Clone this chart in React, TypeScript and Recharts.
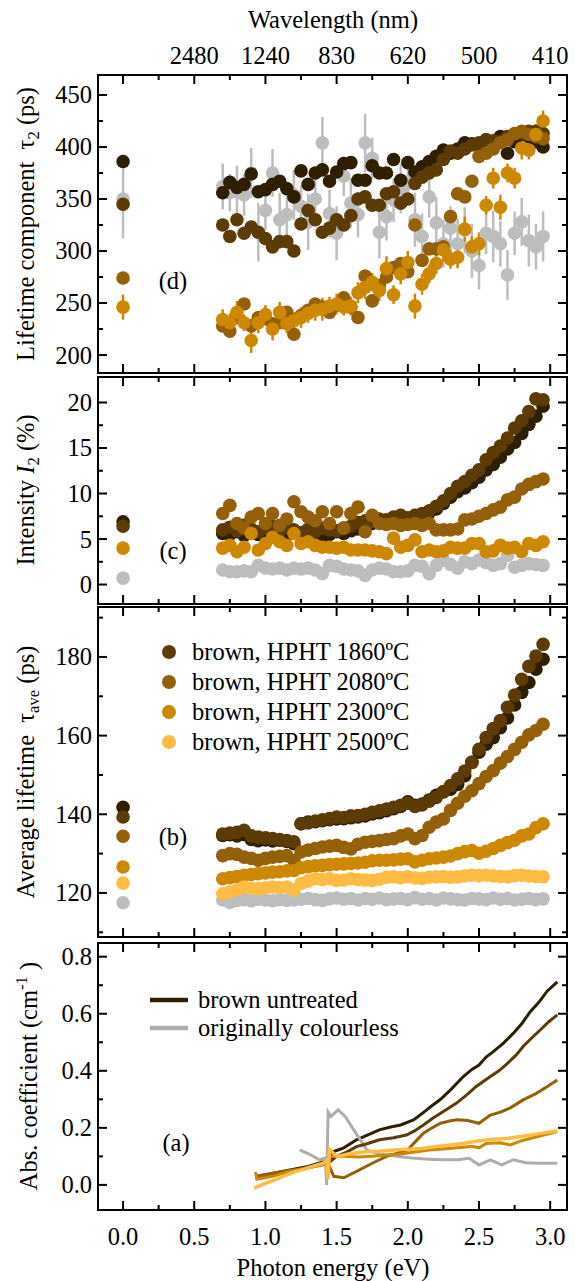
import { ComposedChart, Scatter, Line, XAxis, YAxis, ErrorBar, Legend } from "recharts";

const W = 575;
const H = 1281;
const FONT = '"Liberation Serif", "Times New Roman", Times, serif';
const FS = 24.5;

const UNTREATED = "#2e1e02";
const T1860 = "#5c3b06";
const T2080 = "#94600a";
const T2300 = "#cc8800";
const T2500 = "#ffbc42";
const GREY = "#bdbdbd";
const GREY_LINE = "#adadad";

// plot frame (page px)
const PLOT_L = 98;
const PLOT_R = 567;
const D_BOX = [75, 373];
const C_BOX = [377, 604];
const B_BOX = [607, 937];
const A_BOX = [943, 1210];

const X_DOMAIN = [-0.176, 3.118];
const X_TICKS = [0, 0.25, 0.5, 0.75, 1, 1.25, 1.5, 1.75, 2, 2.25, 2.5, 2.75, 3];
const WAVELENGTH: Record<string, string> = { "0.5": "2480", "1": "1240", "1.5": "830", "2": "620", "2.5": "500", "3": "410" };

// photon energies of the PAS scan (eV)
const E_SCAN = [0.70, 0.75, 0.80, 0.85, 0.90, 0.95, 1.00, 1.05, 1.10, 1.15, 1.20, 1.25, 1.30, 1.35, 1.40, 1.45, 1.50, 1.55, 1.60, 1.65, 1.70, 1.75, 1.80, 1.85, 1.90, 1.95, 2.00, 2.05, 2.10, 2.15, 2.20, 2.25, 2.30, 2.35, 2.40, 2.45, 2.50, 2.55, 2.60, 2.65, 2.70, 2.75, 2.80, 2.85, 2.90, 2.95];

// (d) lifetime component tau2 (ps)
const D_UNTREATED = [356, 366, 361, 364, 374, 357, 359, 364, 367, 360, 352, 377, 364, 375, 378, 367, 376, 384, 385, 368, 368, 382, 375, 375, 388, 368, 385, 376, 381, 386, 391, 397, 394, 398, 404, 403, 402, 407, 405, 410, 394, 405, 412, 410, 405, 400];
const D_1860 = [325, 314, 330, 317, 323, 318, 312, 304, 309, 309, 300, 326, 339, 330, 318, 322, 330, 325, 334, 350, 352, 344, 344, 355, 357, 346, 350, 365, 371, 375, 378, 388, 396, 394, 398, 402, 404, 407, 406, 405, 410, 412, 413, 415, 415, 413];
const D_2080 = [228, 223, 236, 249, 228, 236, 235, 230, 231, 241, 220, 238, 243, 249, 246, 241, 248, 255, 246, 236, 276, 252, 267, 275, 284, 288, 280, 325, 291, 302, 302, 304, 333, 355, 352, 367, 391, 394, 398, 404, 407, 413, 415, 412, 410, 408];
const D_2300 = [234, 231, 241, 231, 214, 231, 239, 225, 241, 230, 233, 236, 240, 243, 244, 247, 249, 246, 247, 260, 265, 270, 262, 283, 258, 278, 289, 247, 268, 278, 288, 301, 292, 294, 321, 304, 307, 344, 370, 342, 375, 370, 399, 397, 412, 425];
const D_2300_ERR = [10, 9, 11, 8, 12, 10, 9, 11, 10, 9, 8, 10, 9, 10, 11, 9, 10, 8, 9, 10, 11, 9, 10, 12, 9, 10, 11, 12, 10, 9, 10, 11, 9, 10, 12, 10, 11, 9, 10, 12, 9, 10, 11, 9, 10, 10];
const D_GREY = [362, 356, 357, 354, 375, 318, 339, 375, 330, 335, 354, 343, 328, 350, 404, 336, 317, 372, 346, 335, 404, 389, 318, 333, 349, 360, 365, 330, 314, 352, 327, 307, 322, 307, 320, 300, 286, 317, 314, 307, 277, 317, 328, 310, 304, 314];
const D_GREY_ERR = [22, 18, 25, 20, 24, 28, 19, 23, 26, 21, 24, 20, 27, 22, 25, 23, 26, 19, 24, 22, 28, 20, 25, 23, 21, 24, 19, 26, 22, 20, 25, 23, 21, 24, 22, 26, 23, 20, 25, 22, 24, 21, 23, 25, 22, 24];

// (c) intensity I2 (%)
const C_UNTREATED = [5.6, 5.5, 5.8, 5.4, 5.7, 5.5, 5.9, 5.6, 5.3, 5.5, 5.8, 5.6, 5.4, 5.7, 5.3, 5.5, 5.8, 5.6, 5.9, 6.1, 6.4, 6.7, 6.9, 7.0, 7.2, 7.1, 7.3, 7.5, 7.6, 7.9, 8.3, 8.9, 9.6, 10.2, 10.6, 11.2, 11.8, 12.6, 13.2, 14.0, 14.9, 15.6, 16.6, 17.6, 18.5, 19.6];
const C_1860 = [6.0, 6.3, 5.9, 6.5, 6.1, 5.8, 6.2, 6.4, 5.9, 6.3, 6.0, 5.7, 6.1, 5.8, 6.2, 6.0, 5.9, 6.2, 6.4, 6.8, 7.0, 6.9, 7.2, 7.1, 7.4, 7.6, 7.3, 7.6, 7.8, 8.1, 8.6, 9.2, 10.0, 10.8, 11.3, 12.0, 12.6, 13.7, 14.5, 15.2, 16.1, 17.2, 18.0, 19.0, 20.4, 20.3];
const C_2080 = [7.8, 8.7, 6.7, 6.2, 7.4, 7.8, 6.7, 7.8, 6.5, 7.2, 9.1, 8.0, 7.4, 7.0, 8.0, 6.7, 8.0, 6.2, 7.8, 8.5, 5.8, 7.6, 6.7, 6.6, 6.7, 6.5, 6.6, 6.7, 6.5, 6.7, 6.0, 6.0, 6.0, 6.1, 7.1, 7.2, 7.5, 7.8, 8.2, 8.5, 9.3, 9.6, 10.5, 11.0, 11.3, 11.6];
const C_2300 = [4.0, 4.3, 3.6, 4.1, 5.6, 3.8, 4.5, 5.2, 4.7, 4.3, 5.6, 4.5, 4.7, 4.3, 4.1, 4.1, 4.0, 4.1, 3.8, 3.8, 3.8, 3.7, 3.6, 3.4, 5.1, 4.1, 4.3, 4.9, 3.6, 3.8, 3.6, 3.7, 4.1, 4.0, 4.0, 4.5, 4.5, 3.6, 3.7, 4.3, 4.0, 4.1, 3.6, 4.5, 4.3, 4.7];
const C_GREY = [1.6, 1.4, 1.4, 1.5, 1.4, 2.1, 1.8, 1.7, 1.8, 1.6, 1.8, 1.7, 1.8, 1.6, 1.2, 2.1, 2.0, 1.7, 1.6, 1.5, 1.0, 1.6, 1.8, 1.7, 1.4, 1.4, 1.5, 2.1, 2.0, 1.2, 2.1, 2.7, 2.2, 1.8, 2.5, 2.3, 2.7, 2.4, 2.1, 2.3, 3.2, 1.9, 2.1, 2.3, 2.2, 2.1];

// (b) average lifetime (ps)
const B_UNTREATED = [134.6, 134.8, 134.5, 134.9, 133.6, 133.3, 133.5, 133.2, 133.4, 133.1, 132.5, 137.6, 138.0, 138.1, 138.4, 138.6, 138.8, 138.9, 139.1, 139.3, 139.6, 140.1, 140.4, 140.9, 141.4, 142.0, 143.2, 142.3, 142.6, 143.6, 144.8, 145.7, 146.4, 147.6, 149.8, 153.2, 155.8, 157.8, 159.5, 162.0, 164.5, 167.8, 171.0, 173.5, 176.9, 179.4];
const B_1860 = [135.0, 135.2, 135.4, 135.9, 134.5, 134.2, 134.0, 133.8, 133.6, 133.3, 133.0, 137.6, 137.8, 138.3, 138.6, 138.9, 139.3, 139.2, 139.6, 139.7, 140.0, 140.5, 140.9, 141.3, 141.8, 142.3, 142.8, 142.0, 142.4, 143.3, 144.3, 145.8, 147.3, 149.0, 151.0, 153.2, 156.5, 159.5, 161.8, 163.8, 167.2, 170.3, 174.3, 177.6, 180.2, 183.2];
const B_2080 = [129.5, 130.0, 129.8, 129.1, 128.8, 128.3, 128.8, 129.1, 129.3, 129.5, 128.3, 130.4, 130.9, 131.3, 131.7, 131.9, 132.1, 131.6, 131.2, 132.4, 132.9, 133.1, 133.3, 133.6, 133.8, 134.5, 135.0, 133.8, 134.6, 136.7, 138.0, 138.8, 141.0, 142.8, 144.6, 146.0, 147.8, 149.6, 151.1, 153.0, 154.7, 156.5, 158.3, 160.2, 161.3, 162.9];
const B_2300 = [123.6, 123.9, 124.2, 124.5, 124.7, 124.9, 125.1, 125.3, 125.4, 125.6, 125.7, 126.4, 126.7, 126.9, 127.0, 127.2, 127.3, 127.4, 127.5, 127.6, 127.8, 128.2, 128.3, 128.3, 128.4, 128.6, 128.7, 127.9, 128.3, 128.7, 128.9, 129.1, 129.4, 130.0, 130.5, 130.8, 130.1, 130.6, 131.3, 132.1, 132.8, 133.4, 134.5, 135.0, 136.6, 137.6];
const B_2500 = [119.8, 120.3, 120.8, 121.5, 121.2, 121.1, 121.3, 121.5, 121.4, 121.5, 120.7, 122.4, 123.0, 123.6, 123.4, 123.6, 123.2, 123.3, 123.6, 123.4, 123.3, 123.2, 123.5, 124.0, 124.1, 123.9, 124.1, 123.8, 123.7, 124.0, 124.1, 124.2, 124.0, 124.1, 124.3, 124.5, 124.4, 124.5, 124.3, 124.2, 124.1, 124.4, 124.5, 124.3, 124.2, 124.1];
const B_GREY = [118.2, 117.6, 118.1, 118.3, 118.0, 118.4, 118.2, 118.0, 118.3, 118.1, 118.2, 118.4, 118.6, 118.3, 118.1, 118.5, 118.7, 118.4, 118.6, 118.2, 118.6, 118.4, 118.7, 118.3, 118.5, 118.6, 118.3, 118.8, 118.4, 118.6, 118.2, 118.7, 118.5, 118.3, 118.2, 118.6, 118.5, 118.3, 118.7, 118.4, 118.6, 118.2, 118.4, 118.6, 118.3, 118.5];

// values measured in the dark (0 eV)
const D_ZERO = { untreated: 386, t1860: 345, t2080: 274, t2300: 246, grey: 350 };
const D_ZERO_ERR = { t2300: 12, grey: 38 };
const C_ZERO = { untreated: 6.9, t1860: 6.4, t2300: 4.0, grey: 0.7 };
const B_ZERO = { untreated: 141.8, t1860: 139.3, t2080: 134.4, t2300: 126.6, t2500: 122.5, grey: 117.5 };

// (a) optical absorption (cm^-1)
const A_UNTREATED_E = [0.93, 1.00, 1.10, 1.20, 1.30, 1.40, 1.45, 1.48, 1.55, 1.64, 1.72, 1.80, 1.88, 1.95, 2.04, 2.10, 2.16, 2.23, 2.30, 2.39, 2.45, 2.50, 2.55, 2.60, 2.67, 2.74, 2.80, 2.86, 2.92, 2.98, 3.05];
const A_UNTREATED = [0.030, 0.035, 0.045, 0.055, 0.065, 0.080, 0.090, 0.117, 0.130, 0.158, 0.175, 0.193, 0.203, 0.210, 0.228, 0.250, 0.274, 0.300, 0.333, 0.380, 0.405, 0.420, 0.448, 0.467, 0.496, 0.531, 0.565, 0.607, 0.640, 0.680, 0.712];
const A_1860_E = [0.93, 1.10, 1.30, 1.45, 1.50, 1.57, 1.64, 1.72, 1.80, 1.90, 1.99, 2.05, 2.11, 2.17, 2.23, 2.34, 2.42, 2.48, 2.58, 2.64, 2.70, 2.76, 2.81, 2.87, 2.93, 2.99, 3.05];
const A_1860 = [0.025, 0.040, 0.060, 0.080, 0.100, 0.115, 0.134, 0.145, 0.158, 0.165, 0.175, 0.190, 0.210, 0.232, 0.251, 0.286, 0.318, 0.345, 0.380, 0.400, 0.426, 0.455, 0.485, 0.515, 0.543, 0.572, 0.596];
const A_2080_E = [0.93, 1.10, 1.30, 1.44, 1.48, 1.55, 1.65, 1.75, 1.85, 1.95, 2.00, 2.05, 2.11, 2.17, 2.23, 2.30, 2.35, 2.42, 2.50, 2.58, 2.65, 2.72, 2.81, 2.90, 2.98, 3.05];
const A_2080 = [0.030, 0.045, 0.060, 0.075, 0.030, 0.025, 0.050, 0.076, 0.100, 0.115, 0.123, 0.150, 0.181, 0.200, 0.216, 0.225, 0.228, 0.226, 0.216, 0.245, 0.255, 0.270, 0.298, 0.320, 0.345, 0.368];
const A_2300_E = [0.93, 0.94, 1.05, 1.15, 1.25, 1.35, 1.44, 1.45, 1.55, 1.65, 1.75, 1.85, 1.95, 2.05, 2.15, 2.25, 2.35, 2.45, 2.50, 2.55, 2.65, 2.72, 2.80, 2.90, 3.05];
const A_2300 = [0.045, 0.020, 0.030, 0.045, 0.055, 0.065, 0.075, 0.100, 0.100, 0.098, 0.100, 0.105, 0.108, 0.115, 0.122, 0.126, 0.130, 0.135, 0.130, 0.145, 0.148, 0.140, 0.155, 0.168, 0.187];
const A_2500_E = [0.92, 0.95, 1.00, 1.05, 1.10, 1.15, 1.20, 1.25, 1.30, 1.35, 1.40, 1.43, 1.44, 1.45, 1.50, 1.60, 1.70, 1.80, 1.90, 2.00, 2.10, 2.20, 2.30, 2.40, 2.50, 2.60, 2.70, 2.80, 2.90, 3.05];
const A_2500 = [-0.012, -0.005, 0.005, 0.015, 0.025, 0.035, 0.045, 0.052, 0.060, 0.068, 0.075, 0.085, 0.020, 0.125, 0.100, 0.110, 0.116, 0.118, 0.122, 0.125, 0.128, 0.135, 0.140, 0.146, 0.155, 0.160, 0.163, 0.170, 0.178, 0.190];
const A_GREY_E = [1.24, 1.30, 1.38, 1.42, 1.43, 1.44, 1.46, 1.51, 1.56, 1.62, 1.67, 1.71, 1.78, 1.85, 1.95, 2.05, 2.15, 2.25, 2.35, 2.43, 2.50, 2.58, 2.66, 2.74, 2.83, 2.92, 3.05];
const A_GREY = [0.123, 0.110, 0.088, 0.095, 0.000, 0.255, 0.240, 0.263, 0.240, 0.193, 0.155, 0.123, 0.110, 0.105, 0.099, 0.093, 0.090, 0.088, 0.088, 0.093, 0.070, 0.088, 0.070, 0.088, 0.078, 0.076, 0.076];

const scan = (zero: number | undefined, ys: number[], errs?: number[], zeroErr?: number) => {
  const pts = E_SCAN.map((x, i) => ({ x, y: ys[i], err: errs ? errs[i] : 0 }));
  return zero === undefined ? pts : [{ x: 0, y: zero, err: zeroErr ?? 0 }, ...pts];
};
const curve = (xs: number[], ys: number[]) => xs.map((x, i) => ({ x, y: ys[i] }));

const dot = (color: string) => (p: any) => <circle cx={p.cx} cy={p.cy} r={6.8} fill={color} />;

const xTick = (edgeY: number, dir: number, label: (v: number) => string | null, labelY: number) => (props: any) => {
  const x = props.x;
  const v = props.payload.value;
  const major = Math.abs(v * 2 - Math.round(v * 2)) < 1e-6;
  const text = major ? label(v) : null;
  return (
    <g>
      <line x1={x} x2={x} y1={edgeY} y2={edgeY + dir * (major ? 9 : 5)} stroke="#000" strokeWidth={2} />
      {text && (
        <text x={x} y={labelY} textAnchor="middle" dominantBaseline="central" fontSize={FS} fontFamily={FONT} fill="#000">
          {text}
        </text>
      )}
    </g>
  );
};

const yTick = (edgeX: number, dir: number, isMajor: (v: number) => boolean, fmt: ((v: number) => string) | null) => (props: any) => {
  const y = props.y;
  const v = props.payload.value;
  const major = isMajor(v);
  return (
    <g>
      <line x1={edgeX} x2={edgeX + dir * (major ? 9 : 5)} y1={y} y2={y} stroke="#000" strokeWidth={2} />
      {major && fmt && (
        <text x={edgeX - 6} y={y} textAnchor="end" dominantBaseline="central" fontSize={FS} fontFamily={FONT} fill="#000">
          {fmt(v)}
        </text>
      )}
    </g>
  );
};

const AXIS_LINE = { stroke: "#000", strokeWidth: 2, strokeLinecap: "square" as const };
const none = () => null;

function frame(box: number[], yDomain: number[], yTicks: number[], isMajor: (v: number) => boolean, fmt: (v: number) => string, topLabels: boolean, bottomLabels: boolean) {
  return [
    <XAxis key="xb" xAxisId="b" dataKey="x" type="number" domain={X_DOMAIN} allowDataOverflow ticks={X_TICKS} interval={0} height={20} tickLine={false} axisLine={AXIS_LINE}
      tick={xTick(box[1], -1, bottomLabels ? (v) => v.toFixed(1) : none, 1236)} />,
    <XAxis key="xt" xAxisId="t" orientation="top" dataKey="x" type="number" domain={X_DOMAIN} allowDataOverflow ticks={X_TICKS} interval={0} height={20} tickLine={false} axisLine={AXIS_LINE}
      tick={xTick(box[0], 1, topLabels ? (v) => WAVELENGTH[String(v)] ?? null : none, 55)} />,
    <YAxis key="yl" yAxisId="l" dataKey="y" type="number" domain={yDomain} allowDataOverflow ticks={yTicks} interval={0} width={PLOT_L} tickLine={false} axisLine={AXIS_LINE}
      tick={yTick(PLOT_L, 1, isMajor, fmt)} />,
    <YAxis key="yr" yAxisId="r" orientation="right" dataKey="y" type="number" domain={yDomain} allowDataOverflow ticks={yTicks} interval={0} width={W - PLOT_R} tickLine={false} axisLine={AXIS_LINE}
      tick={yTick(PLOT_R, -1, isMajor, null)} />,
  ];
}

const margins = (box: number[]) => ({ top: box[0] - 20, bottom: H - box[1] - 20, left: 0, right: 0 });

const legendB = (props: any) => {
  const items = (props.payload || []).filter((e: any) => e.type !== "none" && e.value);
  return (
    <div style={{ fontFamily: FONT, fontSize: FS, color: "#000" }}>
      {items.map((e: any) => (
        <div key={e.value} style={{ display: "flex", alignItems: "center", height: 30 }}>
          <svg width={16} height={16} style={{ flex: "none" }}>
            <circle cx={8} cy={8} r={7} fill={e.color} />
          </svg>
          <span style={{ marginLeft: 15, whiteSpace: "nowrap" }}>{e.value}</span>
        </div>
      ))}
    </div>
  );
};

const legendA = (props: any) => {
  const items = (props.payload || []).filter((e: any) => e.type !== "none" && e.value);
  return (
    <div style={{ fontFamily: FONT, fontSize: FS, color: "#000" }}>
      {items.map((e: any) => (
        <div key={e.value} style={{ display: "flex", alignItems: "center", height: 28 }}>
          <svg width={38} height={8} style={{ flex: "none" }}>
            <line x1={0} x2={38} y1={4} y2={4} stroke={e.color} strokeWidth={4.5} />
          </svg>
          <span style={{ marginLeft: 10, whiteSpace: "nowrap" }}>{e.value}</span>
        </div>
      ))}
    </div>
  );
};

const layer: React.CSSProperties = { position: "absolute", left: 0, top: 0 };

function Note({ x, y, children, rotate }: { x: number; y: number; children: React.ReactNode; rotate?: boolean }) {
  return (
    <div
      style={{
        position: "absolute",
        left: x,
        top: y,
        transform: `translate(-50%, -50%)${rotate ? " rotate(-90deg)" : ""}`,
        whiteSpace: "nowrap",
        fontFamily: FONT,
        fontSize: FS,
        color: "#000",
        lineHeight: 1,
      }}
    >
      {children}
    </div>
  );
}

const sub: React.CSSProperties = { fontSize: "0.68em", verticalAlign: "-0.3em" };
const sup: React.CSSProperties = { fontSize: "0.68em", verticalAlign: "0.6em" };

export default function App() {
  const s = { xAxisId: "b", yAxisId: "l", isAnimationActive: false };
  return (
    <div style={{ position: "absolute", left: 0, top: 0, width: W, height: H, background: "#fff", fontFamily: FONT }}>
      {/* (d) lifetime component */}
      <div style={layer}>
        <ComposedChart width={W} height={H} margin={margins(D_BOX)}>
          {frame(D_BOX, [182.7, 469.2], [200, 225, 250, 275, 300, 325, 350, 375, 400, 425, 450], (v) => v % 50 === 0, String, true, false)}
          <Scatter {...s} data={scan(D_ZERO.grey, D_GREY, D_GREY_ERR, D_ZERO_ERR.grey)} fill={GREY} shape={dot(GREY)}>
            <ErrorBar dataKey="err" direction="y" width={0} stroke={GREY} strokeWidth={2.5} />
          </Scatter>
          <Scatter {...s} data={scan(D_ZERO.untreated, D_UNTREATED)} fill={UNTREATED} shape={dot(UNTREATED)} />
          <Scatter {...s} data={scan(D_ZERO.t1860, D_1860)} fill={T1860} shape={dot(T1860)} />
          <Scatter {...s} data={scan(D_ZERO.t2080, D_2080)} fill={T2080} shape={dot(T2080)} />
          <Scatter {...s} data={scan(D_ZERO.t2300, D_2300, D_2300_ERR, D_ZERO_ERR.t2300)} fill={T2300} shape={dot(T2300)}>
            <ErrorBar dataKey="err" direction="y" width={0} stroke={T2300} strokeWidth={2.5} />
          </Scatter>
        </ComposedChart>
      </div>

      {/* (c) intensity */}
      <div style={layer}>
        <ComposedChart width={W} height={H} margin={margins(C_BOX)}>
          {frame(C_BOX, [-2.14, 22.8], [0, 2.5, 5, 7.5, 10, 12.5, 15, 17.5, 20], (v) => v % 5 === 0, String, false, false)}
          <Scatter {...s} data={scan(C_ZERO.grey, C_GREY)} fill={GREY} shape={dot(GREY)} />
          <Scatter {...s} data={scan(C_ZERO.untreated, C_UNTREATED)} fill={UNTREATED} shape={dot(UNTREATED)} />
          <Scatter {...s} data={scan(C_ZERO.t1860, C_1860)} fill={T1860} shape={dot(T1860)} />
          <Scatter {...s} data={scan(undefined, C_2080)} fill={T2080} shape={dot(T2080)} />
          <Scatter {...s} data={scan(C_ZERO.t2300, C_2300)} fill={T2300} shape={dot(T2300)} />
        </ComposedChart>
      </div>

      {/* (b) average lifetime */}
      <div style={layer}>
        <ComposedChart width={W} height={H} margin={margins(B_BOX)}>
          {frame(B_BOX, [108.8, 192.7], [110, 120, 130, 140, 150, 160, 170, 180, 190], (v) => v % 20 === 0, String, false, false)}
          <Scatter {...s} data={scan(B_ZERO.grey, B_GREY)} fill={GREY} shape={dot(GREY)} legendType="none" />
          <Scatter {...s} data={scan(B_ZERO.untreated, B_UNTREATED)} fill={UNTREATED} shape={dot(UNTREATED)} legendType="none" />
          <Scatter {...s} name="brown, HPHT 1860ºC" data={scan(B_ZERO.t1860, B_1860)} fill={T1860} shape={dot(T1860)} />
          <Scatter {...s} name="brown, HPHT 2080ºC" data={scan(B_ZERO.t2080, B_2080)} fill={T2080} shape={dot(T2080)} />
          <Scatter {...s} name="brown, HPHT 2300ºC" data={scan(B_ZERO.t2300, B_2300)} fill={T2300} shape={dot(T2300)} />
          <Scatter {...s} name="brown, HPHT 2500ºC" data={scan(B_ZERO.t2500, B_2500)} fill={T2500} shape={dot(T2500)} />
          <Legend layout="vertical" align="center" verticalAlign="middle" content={legendB}
            wrapperStyle={{ left: 161, top: 637, width: "auto" }} />
        </ComposedChart>
      </div>

      {/* (a) absorption */}
      <div style={layer}>
        <ComposedChart width={W} height={H} margin={margins(A_BOX)}>
          {frame(A_BOX, [-0.088, 0.848], [0, 0.1, 0.2, 0.3, 0.4, 0.5, 0.6, 0.7, 0.8], (v) => Math.abs(v * 5 - Math.round(v * 5)) < 1e-6, (v) => v.toFixed(1), false, true)}
          <Line {...s} name="brown untreated" data={curve(A_UNTREATED_E, A_UNTREATED)} dataKey="y" type="linear" dot={false} stroke={UNTREATED} strokeWidth={3} />
          <Line {...s} name="originally colourless" data={curve(A_GREY_E, A_GREY)} dataKey="y" type="linear" dot={false} stroke={GREY_LINE} strokeWidth={3} />
          <Line {...s} legendType="none" data={curve(A_1860_E, A_1860)} dataKey="y" type="linear" dot={false} stroke={T1860} strokeWidth={3} />
          <Line {...s} legendType="none" data={curve(A_2080_E, A_2080)} dataKey="y" type="linear" dot={false} stroke={T2080} strokeWidth={3} />
          <Line {...s} legendType="none" data={curve(A_2300_E, A_2300)} dataKey="y" type="linear" dot={false} stroke={T2300} strokeWidth={3} />
          <Line {...s} legendType="none" data={curve(A_2500_E, A_2500)} dataKey="y" type="linear" dot={false} stroke={T2500} strokeWidth={3.5} />
          <Legend layout="vertical" align="center" verticalAlign="middle" content={legendA}
            wrapperStyle={{ left: 150, top: 986, width: "auto" }} />
        </ComposedChart>
      </div>

      <Note x={333} y={20}>Wavelength (nm)</Note>
      <Note x={333} y={1268}>Photon energy (eV)</Note>
      <Note x={28} y={224} rotate>
        Lifetime component&nbsp;&nbsp;τ<span style={sub}>2</span> (ps)
      </Note>
      <Note x={28} y={490} rotate>
        Intensity <i>I</i><span style={sub}>2</span> (%)
      </Note>
      <Note x={28} y={772} rotate>
        Average lifetime&nbsp;&nbsp;τ<span style={sub}>ave</span> (ps)
      </Note>
      <Note x={28} y={1076} rotate>
        Abs. coefficient (cm<span style={sup}>-1</span>&nbsp;)
      </Note>
      <Note x={173} y={281}>(d)</Note>
      <Note x={173} y={551}>(c)</Note>
      <Note x={173} y={837}>(b)</Note>
      <Note x={176} y={1143}>(a)</Note>
    </div>
  );
}
